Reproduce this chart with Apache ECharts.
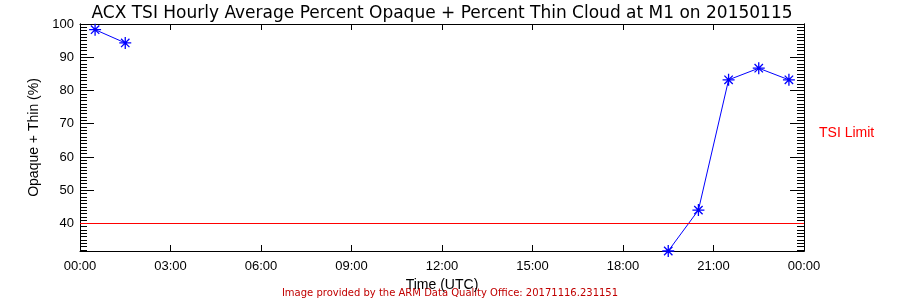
<!DOCTYPE html>
<html><head><meta charset="utf-8">
<script src="https://cdn.jsdelivr.net/npm/echarts@6/dist/echarts.min.js"></script>
<style>html,body{margin:0;padding:0;background:#fff}#c{width:900px;height:300px}</style>
</head><body><div id="c"></div>
<script>
const titleText = 'ACX TSI Hourly Average Percent Opaque + Percent Thin Cloud at M1 on 20150115';
const footerText = 'Image provided by the ARM Data Quality Office: 20171116.231151';
const hours = [0.5,1.5,2.5,3.5,4.5,5.5,6.5,7.5,8.5,9.5,10.5,11.5,12.5,13.5,14.5,15.5,16.5,17.5,18.5,19.5,20.5,21.5,22.5,23.5];
const opaqueThin = [98.3,94.3,null,null,null,null,null,null,null,null,null,null,null,null,null,null,null,null,null,31.7,44.0,83.2,86.7,83.2];
const tsiLimit = 40;
const xTicks = [0,3,6,9,12,15,18,21,24];
const xTickLabels = ['00:00','03:00','06:00','09:00','12:00','15:00','18:00','21:00','00:00'];
const yTicks = [40,50,60,70,80,90,100];
const yMinorTicks = [];
for (let v = 32; v <= 100; v++) yMinorTicks.push(v);
const yMin = 31.7, yMax = 100;

const chart = echarts.init(document.getElementById('c'), null, {renderer:'canvas'});
const tickFont = {fontFamily:'Liberation Sans', fontSize:13, color:'#000'};
const star = 'path://M0,5L10,5M5,0L5,10M1.5,1.5L8.5,8.5M1.5,8.5L8.5,1.5';
const axisLine = {show:true, lineStyle:{color:'#000', width:1}};
function yAxisDef(pos, len, ticks, labels){
  return {type:'value', position:pos, min:yMin, max:yMax,
    axisLine:axisLine, splitLine:{show:false},
    axisTick:{show:true, inside:true, length:len, customValues:ticks, lineStyle:{color:'#000'}},
    axisLabel:labels ? Object.assign({show:true, margin:6, customValues:yTicks, formatter:v=>String(v)}, tickFont) : {show:false}};
}
chart.setOption({
  animation:false,
  backgroundColor:'#fff',
  title:{text:titleText, left:437, top:0, textAlign:'center',
    textStyle:{fontFamily:'DejaVu Sans', fontWeight:'normal', fontSize:17, color:'#000'}},
  grid:{left:80, right:96, top:24, bottom:49},
  xAxis:[
    {type:'value', position:'bottom', min:0, max:24, interval:3,
     name:'Time (UTC)', nameLocation:'middle', nameGap:14,
     nameTextStyle:{fontFamily:'Liberation Sans', fontSize:14, color:'#000'},
     axisLine:axisLine, splitLine:{show:false},
     axisTick:{show:true, inside:true, length:6, customValues:xTicks, lineStyle:{color:'#000'}},
     axisLabel:Object.assign({show:true, margin:9, customValues:xTicks,
       formatter:v=>xTickLabels[xTicks.indexOf(v)]}, tickFont)},
    {type:'value', position:'top', min:0, max:24, interval:3,
     axisLine:axisLine, splitLine:{show:false},
     axisTick:{show:true, inside:true, length:6, customValues:xTicks, lineStyle:{color:'#000'}},
     axisLabel:{show:false}}
  ],
  yAxis:[
    Object.assign(yAxisDef('left', 14, yTicks, true), {name:'Opaque + Thin (%)', nameLocation:'middle', nameGap:38,
      nameTextStyle:{fontFamily:'Liberation Sans', fontSize:14, color:'#000'}}),
    yAxisDef('left', 7, yMinorTicks, false),
    yAxisDef('right', 14, yTicks, false),
    yAxisDef('right', 7, yMinorTicks, false)
  ],
  series:[
    {type:'line', xAxisIndex:0, yAxisIndex:0,
     data:hours.map((h,i)=>[h, opaqueThin[i]]),
     connectNulls:false, clip:true,
     symbol:star, symbolSize:12,
     lineStyle:{color:'#0000ff', width:1},
     itemStyle:{color:'#0000ff', borderColor:'#0000ff', borderWidth:1.3},
     markLine:{silent:true, symbol:['none','none'], label:{show:false},
       lineStyle:{color:'#ff0000', width:1, type:'solid'},
       data:[{yAxis:tsiLimit}]}}
  ],
  graphic:[
    {type:'text', left:819, top:126, style:{text:'TSI Limit', fill:'#ff0000', font:'14px "Liberation Sans"'}},
    {type:'text', left:'center', top:288, style:{text:footerText, fill:'#c00000', font:'10px "DejaVu Sans"'}}
  ]
});
</script></body></html>
